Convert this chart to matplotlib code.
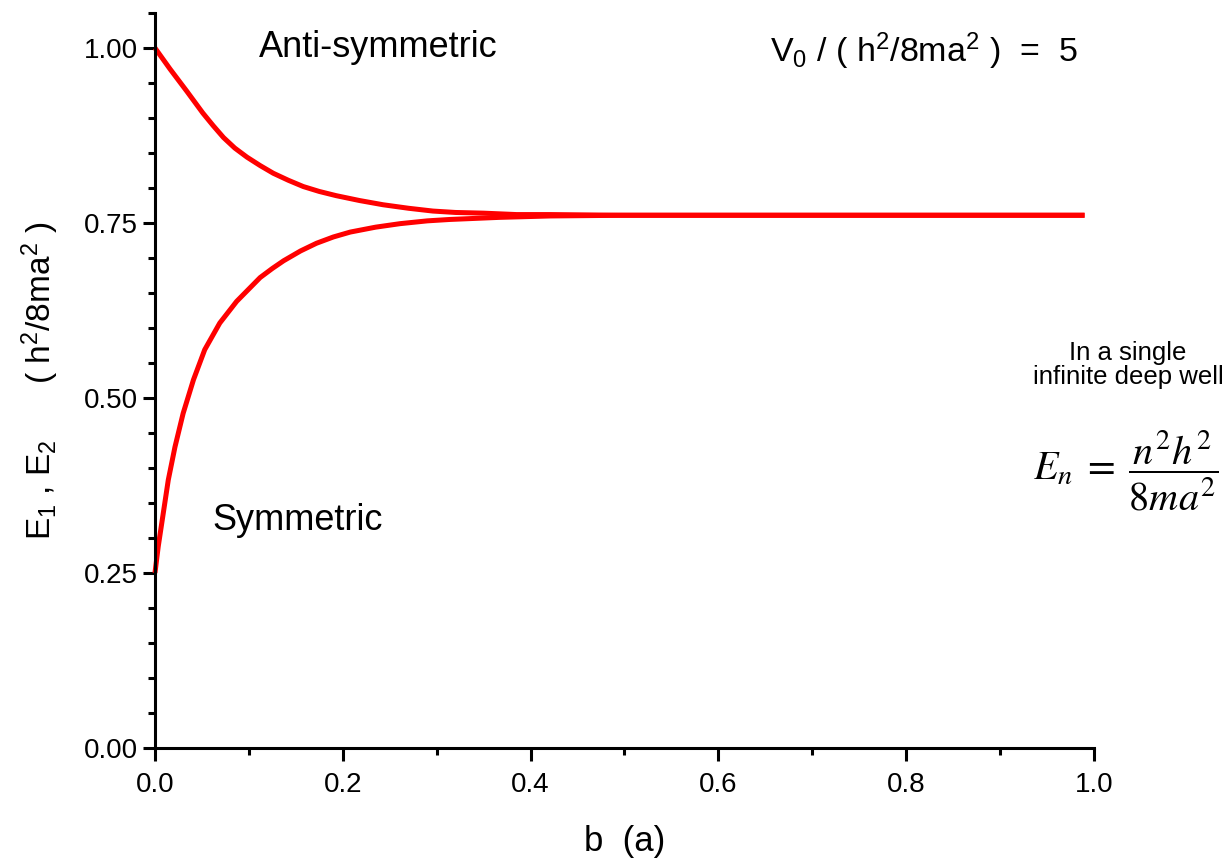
import numpy as np
import matplotlib.pyplot as plt
from matplotlib.ticker import MultipleLocator, FormatStrFormatter

plt.rcParams['font.family'] = ['Liberation Sans', 'DejaVu Sans']
plt.rcParams['mathtext.fontset'] = 'custom'
plt.rcParams['mathtext.rm'] = 'Liberation Sans'
plt.rcParams['mathtext.it'] = 'Liberation Sans:italic'

# values
b_sym = [0.0, 0.0035, 0.0088, 0.0142, 0.0213, 0.030, 0.041, 0.053, 0.069, 0.087,
         0.112, 0.125, 0.137, 0.155, 0.172, 0.190, 0.208, 0.235, 0.261, 0.290,
         0.314, 0.367, 0.421, 0.500, 0.600, 0.700, 0.800, 0.900, 0.990]
e_sym = [0.250, 0.288, 0.335, 0.383, 0.430, 0.478, 0.526, 0.569, 0.607, 0.638,
         0.672, 0.685, 0.696, 0.710, 0.721, 0.730, 0.737, 0.744, 0.749, 0.753,
         0.755, 0.758, 0.760, 0.761, 0.761, 0.761, 0.761, 0.761, 0.761]

b_anti = [0.0, 0.016, 0.034, 0.051, 0.062, 0.073, 0.085, 0.098, 0.112, 0.126,
          0.142, 0.158, 0.175, 0.193, 0.218, 0.243, 0.270, 0.296, 0.320, 0.350,
          0.385, 0.421, 0.500, 0.600, 0.700, 0.800, 0.900, 0.990]
e_anti = [1.000, 0.970, 0.938, 0.907, 0.889, 0.872, 0.857, 0.844, 0.832, 0.821,
          0.811, 0.802, 0.795, 0.789, 0.782, 0.776, 0.771, 0.767, 0.765, 0.764,
          0.762, 0.762, 0.761, 0.761, 0.761, 0.761, 0.761, 0.761]

fig = plt.figure(figsize=(12.26, 8.64), dpi=100)
ax = fig.add_axes([0.1264, 0.1343, 0.7659, 0.8507])

for b, e in [(b_sym, e_sym), (b_anti, e_anti)]:
    ax.plot(b, e, color='#ff0000', lw=3.6, solid_joinstyle='round',
            solid_capstyle='butt', clip_on=False)

ax.set_xlim(0, 1.0)
ax.set_ylim(0, 1.05)
for s in ['top', 'right']:
    ax.spines[s].set_visible(False)
for s in ['left', 'bottom']:
    ax.spines[s].set_linewidth(2.2)

ax.xaxis.set_major_locator(MultipleLocator(0.2))
ax.xaxis.set_minor_locator(MultipleLocator(0.1))
ax.yaxis.set_major_locator(MultipleLocator(0.25))
ax.yaxis.set_minor_locator(MultipleLocator(0.05))
ax.xaxis.set_major_formatter(FormatStrFormatter('%.1f'))
ax.yaxis.set_major_formatter(FormatStrFormatter('%.2f'))
ax.tick_params(which='major', direction='out', length=9, width=2.2, labelsize=20)
ax.tick_params(which='minor', direction='out', length=5, width=2.2)
ax.tick_params(axis='x', which='major', pad=8)
ax.tick_params(axis='y', which='major', pad=3)

ax.set_xlabel('b  (a)', fontsize=25, labelpad=20)
ax.set_ylabel('E$_1$ , E$_2$      ( h$^2$/8ma$^2$ )', fontsize=24, labelpad=17)

ax.text(0.111, 1.0, 'Anti-symmetric', fontsize=26, ha='left', va='center')
ax.text(0.061, 0.325, 'Symmetric', fontsize=26, ha='left', va='center')
ax.text(0.655, 0.996, 'V$_0$ / ( h$^2$/8ma$^2$ )  =  5', fontsize=24.5, ha='left',
        va='center')

fig.text(0.920, 0.578, 'In a single\ninfinite deep well', fontsize=18.5, ha='center',
         va='center', linespacing=1.0)
fig.text(0.9185, 0.455, r'$E_n\;=\;\dfrac{n^2h^2}{8ma^2}$', fontsize=29, ha='center',
         va='center', math_fontfamily='stix')

fig.savefig('out.png', dpi=100)
